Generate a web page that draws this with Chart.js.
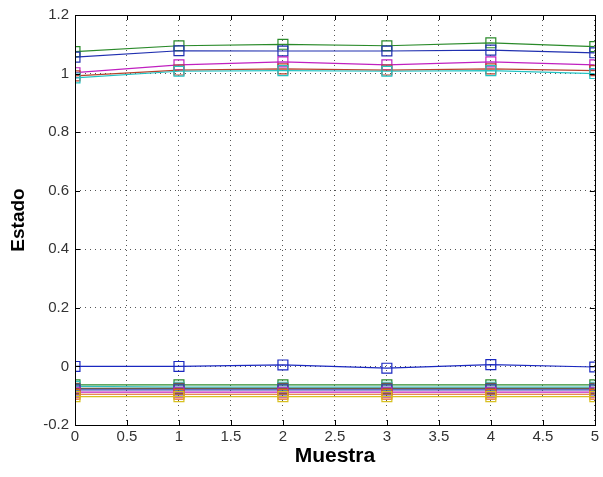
<!DOCTYPE html>
<html>
<head>
<meta charset="utf-8">
<script src="https://cdn.jsdelivr.net/npm/chart.js@4/dist/chart.umd.min.js"></script>
<style>
  html, body { margin: 0; padding: 0; background: #fff; }
  #wrap { width: 603px; height: 477px; }
</style>
</head>
<body>
<div id="wrap"><canvas id="stateChart"></canvas></div>
<script>
// sample index
const muestras = [0, 1, 2, 3, 4, 5];

// upper group (around 1)
const upGreen   = [1.075, 1.095, 1.100, 1.095, 1.105, 1.092];
const upBlue    = [1.056, 1.078, 1.077, 1.077, 1.080, 1.071];
const upMagenta = [1.003, 1.030, 1.040, 1.030, 1.040, 1.030];
const upRed     = [0.992, 1.012, 1.016, 1.012, 1.016, 1.010];
const upCyan    = [0.985, 1.008, 1.010, 1.008, 1.010, 1.000];

// lower group (around 0)
const loBlue    = [0.000, 0.000, 0.005, -0.006, 0.006, -0.002];
const loGreen   = [-0.063, -0.063, -0.063, -0.063, -0.063, -0.063];
const loCyan    = [-0.068, -0.071, -0.071, -0.071, -0.071, -0.071];
const loBlack   = [-0.075, -0.075, -0.075, -0.075, -0.075, -0.075];
const loBlue2   = [-0.080, -0.080, -0.080, -0.080, -0.080, -0.080];
const loMagenta = [-0.088, -0.088, -0.088, -0.088, -0.088, -0.088];
const loRed     = [-0.095, -0.095, -0.095, -0.095, -0.095, -0.095];
const loYellow  = [-0.103, -0.103, -0.103, -0.103, -0.103, -0.103];

const yTicks = [-0.2, 0, 0.2, 0.4, 0.6, 0.8, 1, 1.2];

function toPoints(vals){
    return muestras.map((x, i) => ({ x: x, y: vals[i] }));
}

function serie(vals, color){
    return {
        data: toPoints(vals),
        borderColor: color,
        backgroundColor: "rgba(0,0,0,0)",
        borderWidth: 1.2,
        pointStyle: "rect",
        pointRadius: 7,
        pointBorderWidth: 1.2,
        pointBorderColor: color,
        pointBackgroundColor: "rgba(0,0,0,0)",
        tension: 0,
        fill: false
    };
}

const datasets = [
    serie(upCyan, "#22c4c4"),
    serie(upRed, "#b8422c"),
    serie(upMagenta, "#c020c0"),
    serie(upBlue, "#2030b0"),
    serie(upGreen, "#2a8a2a"),
    serie(loYellow, "#d8c020"),
    serie(loRed, "#e06020"),
    serie(loMagenta, "#c020c0"),
    serie(loBlue2, "#3040b0"),
    serie(loBlack, "#6a5a4a"),
    serie(loCyan, "#30c0c0"),
    serie(loGreen, "#2a8a2a"),
    serie(loBlue, "#1a28c0")
];

// frame + inward tick marks like matlab
const boxPlugin = {
    id: "box",
    afterDraw(chart){
        const a = chart.chartArea;
        const ctx = chart.ctx;
        const xs = chart.scales.x;
        const ys = chart.scales.y;
        ctx.save();
        ctx.strokeStyle = "#000";
        ctx.lineWidth = 1;
        ctx.beginPath();
        xs.ticks.forEach(t => {
            const px = Math.round(xs.getPixelForValue(t.value)) + 0.5;
            ctx.moveTo(px, a.bottom); ctx.lineTo(px, a.bottom - 5);
            ctx.moveTo(px, a.top); ctx.lineTo(px, a.top + 5);
        });
        ys.ticks.forEach(t => {
            const py = Math.round(ys.getPixelForValue(t.value)) + 0.5;
            ctx.moveTo(a.left, py); ctx.lineTo(a.left + 5, py);
            ctx.moveTo(a.right, py); ctx.lineTo(a.right - 5, py);
        });
        ctx.stroke();
        ctx.strokeRect(Math.round(a.left) + 0.5, Math.round(a.top) + 0.5,
            Math.round(a.right - a.left), Math.round(a.bottom - a.top));
        ctx.restore();
    }
};

new Chart(document.getElementById("stateChart"), {
    type: "line",
    data: { datasets: datasets },
    options: {
        responsive: true,
        maintainAspectRatio: false,
        animation: false,
        layout: { padding: { top: 15, right: 7, left: 0, bottom: 0 } },
        plugins: { legend: { display: false }, tooltip: { enabled: false } },
        scales: {
            x: {
                type: "linear",
                min: 0,
                max: 5,
                ticks: {
                    stepSize: 0.5,
                    color: "#333",
                    padding: 3,
                    maxRotation: 0,
                    font: { family: "Liberation Sans", size: 15 },
                    callback: v => String(Number(v.toFixed(1)))
                },
                grid: {
                    color: "#555",
                    lineWidth: 1,
                    drawTicks: false
                },
                border: { display: false, dash: [1, 4] },
                title: {
                    display: true,
                    text: "Muestra",
                    color: "#000",
                    padding: { top: 0, bottom: 8 },
                    font: { family: "Liberation Sans", size: 21, weight: "bold" }
                },
                afterFit: s => { s.height = 52; }
            },
            y: {
                type: "linear",
                min: -0.2,
                max: 1.2,
                afterBuildTicks: s => { s.ticks = yTicks.map(v => ({ value: v })); },
                ticks: {
                    color: "#333",
                    padding: 6,
                    font: { family: "Liberation Sans", size: 15 },
                    callback: v => String(Number(v.toFixed(1)))
                },
                grid: {
                    color: "#555",
                    lineWidth: 1,
                    drawTicks: false
                },
                border: { display: false, dash: [1, 4] },
                title: {
                    display: true,
                    text: "Estado",
                    color: "#000",
                    padding: { top: 7, bottom: 0 },
                    font: { family: "Liberation Sans", size: 19, weight: "bold" }
                },
                afterFit: s => { s.width = 75; }
            }
        }
    },
    plugins: [boxPlugin]
});
</script>
</body>
</html>
